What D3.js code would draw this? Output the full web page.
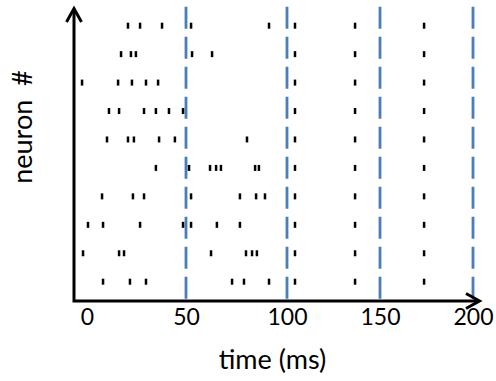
<!DOCTYPE html>
<html>
<head>
<meta charset="utf-8">
<script src="https://cdn.jsdelivr.net/npm/d3@7"></script>
<style>
  body { margin: 0; background: #fff; }
  svg { display: block; }
</style>
</head>
<body>
<div id="chart"></div>
<script>
// spike times (ms), neuron 10 is the top row
var neurons = [10, 9, 8, 7, 6, 5, 4, 3, 2, 1];
var spikeTimes = [
  [20.7, 26.8, 37.9, 52.5, 91.1, 104.3, 136.6, 173.7],
  [17.2, 22.2, 24.7, 53.0, 62.9, 104.3, 136.6, 173.7],
  [-2.5, 15.7, 22.7, 29.8, 35.9, 104.3, 136.6, 173.7],
  [11.1, 16.2, 28.8, 34.8, 41.4, 48.5, 104.3, 136.6, 173.7],
  [10.1, 20.7, 23.7, 36.4, 44.4, 80.2, 104.3, 136.6, 173.7],
  [34.8, 51.5, 61.9, 64.9, 67.3, 84.2, 86.1, 104.3, 136.6, 173.7],
  [7.6, 23.2, 28.8, 52.5, 76.7, 84.7, 89.1, 104.3, 136.6, 173.7],
  [0.5, 8.1, 26.8, 48.5, 52.5, 65.3, 76.7, 104.3, 136.6, 173.7],
  [-2.0, 16.2, 18.7, 62.4, 79.7, 82.7, 85.1, 104.3, 136.6, 173.7],
  [8.1, 21.7, 29.8, 72.8, 78.7, 91.1, 104.3, 136.6, 173.7]
];
var periodLines = [50, 100, 150, 200];
var xTicks = [0, 50, 100, 150, 200];

var width = 496, height = 381;
var axisX = 74, axisY = 301;

var svg = d3.select("#chart").append("svg")
    .attr("width", width)
    .attr("height", height);

// hand drawn figure: tick spacing is not quite even, so piecewise scale
var x = d3.scaleLinear()
    .domain(xTicks)
    .range([87, 186, 287, 380, 473]);

var y = d3.scaleLinear()
    .domain([1, 10])
    .range([281.7, 25.7]);

// flatten spikes
var spikes = [];
spikeTimes.forEach(function(row, i) {
  row.forEach(function(t) { spikes.push({neuron: neurons[i], t: t}); });
});

// dashed period lines
svg.append("g").selectAll("line")
    .data(periodLines)
    .join("line")
    .attr("x1", function(d) { return x(d); })
    .attr("x2", function(d) { return x(d); })
    .attr("y1", 6.7)
    .attr("y2", axisY)
    .attr("stroke", "#4a7ebb")
    .attr("stroke-width", 2.8)
    .attr("stroke-dasharray", "22,8");

// spikes
svg.append("g").selectAll("rect")
    .data(spikes)
    .join("rect")
    .attr("x", function(d) { return x(d.t) - 1.25; })
    .attr("y", function(d) { return y(d.neuron) - 3; })
    .attr("width", 2.5)
    .attr("height", 6)
    .attr("fill", "#000");

// axes with arrows
var axes = svg.append("g")
    .attr("fill", "none")
    .attr("stroke", "#000")
    .attr("stroke-width", 3);

axes.append("path")
    .attr("d", "M" + axisX + "," + 9 + "V" + axisY + "H" + 479);
axes.append("path")
    .attr("d", "M" + (axisX - 7.5) + ",22L" + axisX + ",8.5L" + (axisX + 7.5) + ",22")
    .attr("stroke-linejoin", "miter");
axes.append("path")
    .attr("d", "M466," + (axisY - 7.5) + "L479.5," + axisY + "L466," + (axisY + 7.5))
    .attr("stroke-linejoin", "miter");

// tick labels
var xAxis = d3.axisBottom(x)
    .tickValues(xTicks)
    .tickSize(0)
    .tickPadding(8)
    .tickFormat(d3.format("d"));

var gx = svg.append("g")
    .attr("transform", "translate(0," + axisY + ")")
    .call(xAxis);
gx.select(".domain").remove();
gx.selectAll("text")
    .attr("font-family", "Lato, sans-serif")
    .attr("font-size", 23)
    .attr("fill", "#000");

// axis titles
svg.append("text")
    .attr("x", 272.5)
    .attr("y", 369)
    .attr("text-anchor", "middle")
    .attr("font-family", "Lato, sans-serif")
    .attr("font-size", 27)
    .text("time (ms)");

svg.append("text")
    .attr("transform", "translate(32,127) rotate(-90)")
    .attr("text-anchor", "middle")
    .attr("font-family", "Lato, sans-serif")
    .attr("font-size", 27)
    .attr("xml:space", "preserve")
    .text("neuron  #");
</script>
</body>
</html>
